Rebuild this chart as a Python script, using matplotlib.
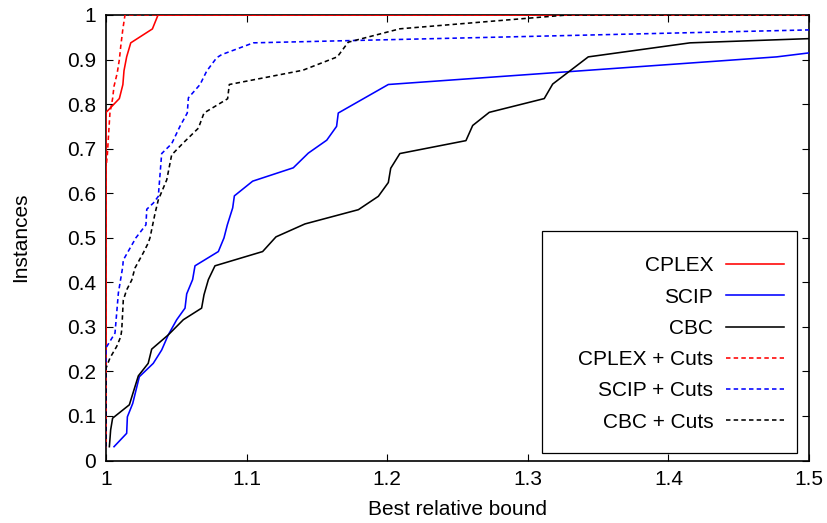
import matplotlib
matplotlib.use("Agg")
import matplotlib.pyplot as plt
from matplotlib.patches import Rectangle

plt.rcParams['font.family'] = ['Liberation Sans', 'DejaVu Sans']

cplex_x = [1.0, 1.0, 1.0095, 1.012, 1.0128, 1.0147, 1.0176, 1.033, 1.037, 1.5]
cplex_y = [0.03125, 0.78125, 0.8125, 0.84375, 0.875, 0.90625, 0.9375, 0.96875, 1.0, 1.0]

scip_x = [1.0057, 1.0147, 1.0152, 1.019, 1.0237, 1.0336, 1.0396, 1.0443, 1.0503, 1.0562,
          1.0574, 1.0616, 1.0633, 1.0799, 1.0839, 1.0863, 1.0901, 1.0913, 1.1043, 1.1332,
          1.1439, 1.157, 1.164, 1.1652, 1.2008, 1.477, 1.558]
scip_y = [0.031, 0.061, 0.098, 0.128, 0.188, 0.218, 0.248, 0.282, 0.316, 0.342,
          0.374, 0.406, 0.437, 0.469, 0.4995, 0.529, 0.567, 0.594, 0.627, 0.657,
          0.69, 0.719, 0.75, 0.78, 0.844, 0.906, 0.9375]

cbc_x = [1.0024, 1.0033, 1.0047, 1.0166, 1.023, 1.030, 1.0325, 1.0443, 1.055, 1.068,
         1.0697, 1.0728, 1.0775, 1.1114, 1.1209, 1.1415, 1.1795, 1.1937, 1.2008, 1.2025,
         1.209, 1.256, 1.2608, 1.2726, 1.3117, 1.3177, 1.343, 1.4154, 1.695]
cbc_y = [0.031, 0.0685, 0.095, 0.125, 0.19, 0.218, 0.25, 0.282, 0.316, 0.342,
         0.372, 0.406, 0.437, 0.469, 0.502, 0.531, 0.563, 0.593, 0.624, 0.656,
         0.689, 0.718, 0.752, 0.7815, 0.8124, 0.845, 0.906, 0.9375, 0.96875]

cplex_cuts_x = [1.0, 1.0, 1.001, 1.0016, 1.0028, 1.0047, 1.0057, 1.008, 1.0095, 1.0105, 1.012, 1.0135, 1.5]
cplex_cuts_y = [0.03125, 0.65625, 0.6875, 0.72, 0.78, 0.8125, 0.84, 0.87, 0.90, 0.93, 0.96875, 1.0, 1.0]

scip_cuts_x = [1.0, 1.0, 1.0064, 1.0088, 1.0119, 1.0123, 1.0213, 1.0284, 1.029, 1.0337,
               1.0372, 1.0396, 1.0467, 1.0526, 1.0578, 1.0586, 1.0669, 1.0716, 1.0787, 1.0822,
               1.1048, 1.53]
scip_cuts_y = [0.03125, 0.253, 0.286, 0.376, 0.435, 0.45, 0.5, 0.529, 0.564, 0.578,
               0.593, 0.689, 0.711, 0.75, 0.78, 0.814, 0.844, 0.874, 0.904, 0.911,
               0.9375, 0.96875]

cbc_cuts_x = [1.0, 1.0, 1.0028, 1.0076, 1.0105, 1.0112, 1.0123, 1.0147, 1.0183, 1.0206,
              1.0265, 1.03, 1.0313, 1.0349, 1.0372, 1.0432, 1.0467, 1.055, 1.0657, 1.0697,
              1.0865, 1.0877, 1.140, 1.1645, 1.1723, 1.209, 1.328, 1.5]
cbc_cuts_y = [0.03125, 0.207, 0.23, 0.256, 0.278, 0.293, 0.36, 0.383, 0.405, 0.432,
              0.466, 0.488, 0.5, 0.555, 0.585, 0.63, 0.686, 0.713, 0.746, 0.78,
              0.812, 0.844, 0.876, 0.906, 0.939, 0.969, 1.0, 1.0]

x_ticks = [1.0, 1.1, 1.2, 1.3, 1.4, 1.5]
x_tick_labels = ["1", "1.1", "1.2", "1.3", "1.4", "1.5"]
y_ticks = [0, 0.1, 0.2, 0.3, 0.4, 0.5, 0.6, 0.7, 0.8, 0.9, 1.0]
y_tick_labels = ["0", "0.1", "0.2", "0.3", "0.4", "0.5", "0.6", "0.7", "0.8", "0.9", "1"]

W, H = 828, 523
fig = plt.figure(figsize=(W / 100, H / 100), dpi=100)
L, R, T, B = 106, 809, 15, 460.5
ax = fig.add_axes([L / W, 1 - B / H, (R - L) / W, (B - T) / H])

fs = 15
lw = 1.15
dash = (2.8, 2.0)
series = [
    (cplex_x, cplex_y, "#ff0000", "-", "CPLEX"),
    (scip_x, scip_y, "#0000ff", "-", "SCIP"),
    (cbc_x, cbc_y, "#000000", "-", "CBC"),
    (cplex_cuts_x, cplex_cuts_y, "#ff0000", "--", "CPLEX + Cuts"),
    (scip_cuts_x, scip_cuts_y, "#0000ff", "--", "SCIP + Cuts"),
    (cbc_cuts_x, cbc_cuts_y, "#000000", "--", "CBC + Cuts"),
]
handles = []
for xs, ys, c, ls, lab in series:
    if ls == "--":
        ln, = ax.plot(xs, ys, color=c, lw=lw, linestyle=(0, dash), label=lab, zorder=3)
    else:
        ln, = ax.plot(xs, ys, color=c, lw=lw, linestyle="-", label=lab, zorder=3)
    handles.append(ln)

ax.set_xlim(1.0, 1.5)
ax.set_ylim(0, 1)
ax.set_xticks(x_ticks)
ax.set_xticklabels(x_tick_labels)
ax.set_yticks(y_ticks)
ax.set_yticklabels(y_tick_labels)
ax.tick_params(direction="in", length=5, width=0.8, top=True, right=True,
               labelsize=fs, pad=7)
for s in ax.spines.values():
    s.set_linewidth(1.2)
    s.set_zorder(2)

ax.set_xlabel("Best relative bound", fontsize=fs, labelpad=8)
ax.set_ylabel("Instances", fontsize=fs, labelpad=27)

# legend frame
ax.add_patch(Rectangle(((542 - L) / (R - L), (B - 453) / (B - T)),
                       (797 - 542) / (R - L), (453 - 231) / (B - T),
                       transform=ax.transAxes, fill=True, facecolor="white",
                       edgecolor="black", lw=0.9, zorder=4))
leg = ax.legend(handles=handles, loc="center right", markerfirst=False, frameon=False,
                bbox_to_anchor=((784 - L) / (R - L), (B - 344) / (B - T)),
                borderaxespad=0, borderpad=0, fontsize=fs, handlelength=2.8,
                handletextpad=0.6, labelspacing=0.59)
leg.set_zorder(5)

fig.savefig("out.png", dpi=100)
